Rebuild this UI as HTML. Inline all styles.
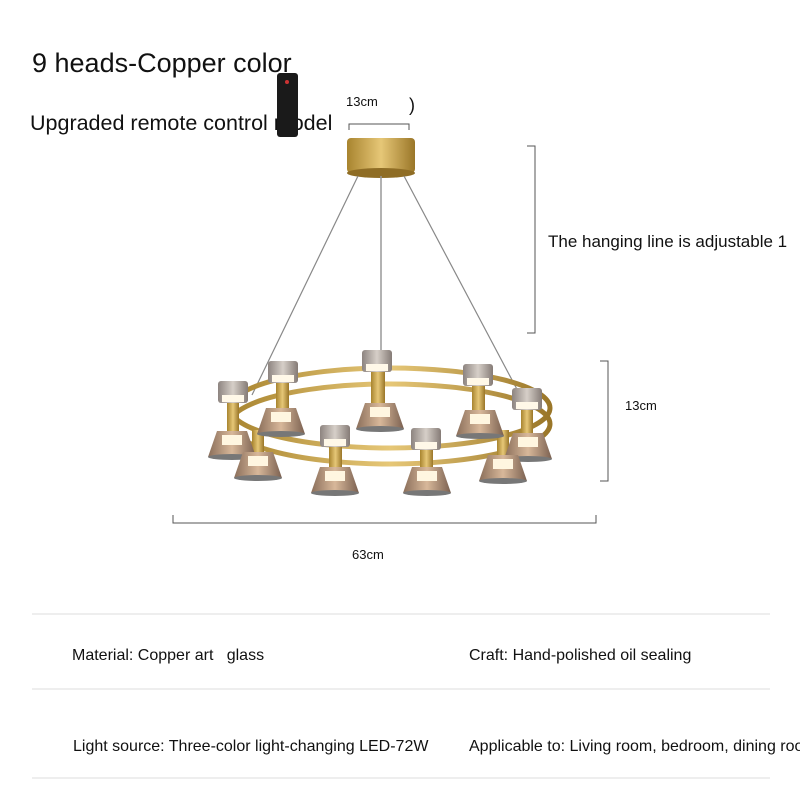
<!DOCTYPE html>
<html><head><meta charset="utf-8"><style>
body{margin:0;background:#fff;}
svg{display:block}
text{font-family:"Liberation Sans",sans-serif;fill:#111}
</style></head><body>
<svg width="800" height="800" viewBox="0 0 800 800">
<defs>
<linearGradient id="brass" x1="0" x2="1"><stop offset="0" stop-color="#a8842f"/><stop offset=".5" stop-color="#e6c777"/><stop offset="1" stop-color="#9a7628"/></linearGradient>
<linearGradient id="shade" x1="0" x2="1"><stop offset="0" stop-color="#8a6e5a"/><stop offset=".5" stop-color="#d8b89a"/><stop offset="1" stop-color="#7a6050"/></linearGradient>
<linearGradient id="cup" x1="0" x2="1"><stop offset="0" stop-color="#8d8480"/><stop offset=".5" stop-color="#d6cfc8"/><stop offset="1" stop-color="#857b76"/></linearGradient>
<g id="cupg"><rect x="-15" y="-12" width="30" height="22" rx="3" fill="url(#cup)"/><rect x="-11" y="2" width="22" height="7" fill="#fff8e8"/></g>
<g id="shd"><path d="M-15,-14 L15,-14 L24,12 L-24,12 Z" fill="url(#shade)"/><rect x="-10" y="-10" width="20" height="10" fill="#fff6e0"/><ellipse cx="0" cy="12" rx="24" ry="3" fill="#777"/></g>
</defs>
<text x="32" y="72" font-size="27">9 heads-Copper color</text>
<text x="30" y="130" font-size="21.5">Upgraded remote control model</text>
<rect x="277" y="73" width="21" height="64" rx="3" fill="#1a1a1a"/>
<circle cx="287" cy="82" r="2" fill="#c33"/>
<text x="346" y="106" font-size="13">13cm</text>
<text x="409" y="111" font-size="18">)</text>
<path d="M349,130 V124 H409 V130" stroke="#555" fill="none"/>
<path d="M527,146 H535 V333 H527" stroke="#555" fill="none"/>
<text x="548" y="247" font-size="17">The hanging line is adjustable 1</text>
<path d="M600,361 H608 V481 H600" stroke="#555" fill="none"/>
<text x="625" y="410" font-size="13">13cm</text>
<path d="M173,515 V523 H596 V515" stroke="#555" fill="none"/>
<text x="352" y="559" font-size="13">63cm</text>
<rect x="347" y="138" width="68" height="35" rx="4" fill="url(#brass)"/>
<ellipse cx="381" cy="173" rx="34" ry="5" fill="#8f6d25"/>
<line x1="358" y1="176" x2="252" y2="395" stroke="#888" stroke-width="1.2"/>
<line x1="404" y1="176" x2="520" y2="395" stroke="#888" stroke-width="1.2"/>
<line x1="381" y1="176" x2="381" y2="355" stroke="#999" stroke-width="1.5"/>
<ellipse cx="390" cy="408" rx="160" ry="40" fill="none" stroke="url(#brass)" stroke-width="5"/>
<ellipse cx="390" cy="424" rx="160" ry="40" fill="none" stroke="url(#brass)" stroke-width="5"/>
<g fill="url(#brass)">
<rect x="227" y="400" width="12" height="40"/><rect x="276" y="380" width="13" height="40"/><rect x="371" y="368" width="14" height="40"/><rect x="472" y="382" width="13" height="40"/><rect x="521" y="405" width="12" height="38"/>
<rect x="252" y="430" width="12" height="30"/><rect x="329" y="440" width="13" height="32"/><rect x="420" y="443" width="13" height="32"/><rect x="497" y="430" width="12" height="32"/>
</g>
<use href="#cupg" x="233" y="393"/><use href="#cupg" x="283" y="373"/><use href="#cupg" x="377" y="362"/><use href="#cupg" x="478" y="376"/><use href="#cupg" x="527" y="400"/>
<use href="#cupg" x="335" y="437"/><use href="#cupg" x="426" y="440"/>
<use href="#shd" x="232" y="445"/><use href="#shd" x="281" y="422"/><use href="#shd" x="380" y="417"/><use href="#shd" x="480" y="424"/><use href="#shd" x="528" y="447"/>
<use href="#shd" x="258" y="466"/><use href="#shd" x="335" y="481"/><use href="#shd" x="427" y="481"/><use href="#shd" x="503" y="469"/>
<line x1="32" y1="614" x2="770" y2="614" stroke="#ddd"/>
<line x1="32" y1="689" x2="770" y2="689" stroke="#ddd"/>
<line x1="32" y1="778" x2="770" y2="778" stroke="#ddd"/>
<text x="72" y="660" font-size="16" xml:space="preserve">Material: Copper art   glass</text>
<text x="469" y="660" font-size="16">Craft: Hand-polished oil sealing</text>
<text x="73" y="751" font-size="16">Light source: Three-color light-changing LED-72W</text>
<text x="469" y="751" font-size="16">Applicable to: Living room, bedroom, dining roo</text>
</svg>
</body></html>
